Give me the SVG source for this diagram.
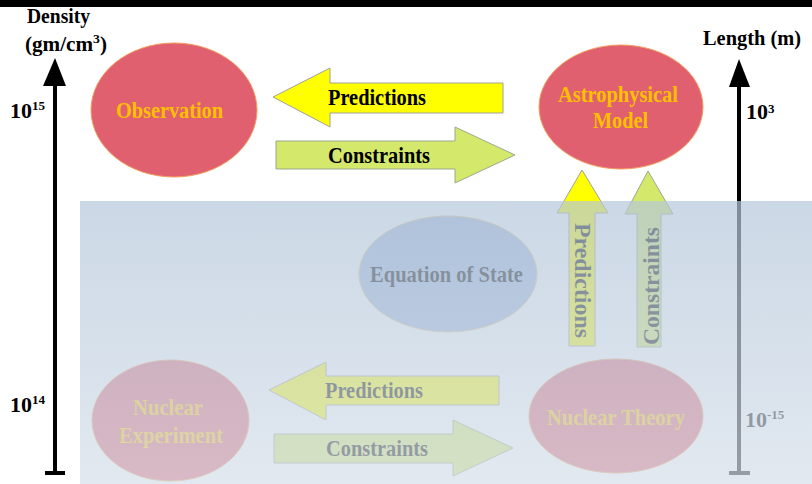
<svg xmlns="http://www.w3.org/2000/svg" width="812" height="484" viewBox="0 0 812 484">
<style>
text{font-family:"Liberation Serif","Times New Roman",serif;font-weight:bold}
.lbl{font-size:23px;fill:#000;text-anchor:middle}
.node{font-size:24px;fill:#ffc000;text-anchor:middle}
.ax{font-size:20px;fill:#000}
.num{font-size:22px;fill:#000}
.sup{font-size:13px}
.red{fill:#e0606f;stroke:#f2a060;stroke-width:1}
.yel{fill:#ffff00;stroke:#a0a0a0;stroke-width:1}
.grn{fill:#d4e86b;stroke:#9aa890;stroke-width:1}
</style>
<defs>
<linearGradient id="ov" x1="0" y1="0" x2="0" y2="1">
<stop offset="0" stop-color="#b5c7da"/>
<stop offset="1" stop-color="#d5dfea"/>
</linearGradient>
</defs>
<rect x="0" y="0" width="812" height="484" fill="#fff"/>
<rect x="0" y="0" width="812" height="7" fill="#000"/>

<g id="density-axis">
<rect x="53" y="84" width="4" height="389" fill="#000"/>
<polygon points="55,58 43,86 66,86" fill="#000"/>
<rect x="45" y="471" width="20" height="4" fill="#000"/>
<text class="ax" x="58.5" y="23" text-anchor="middle" textLength="63" lengthAdjust="spacingAndGlyphs">Density</text>
<text class="ax" x="25" y="51" textLength="82" lengthAdjust="spacingAndGlyphs">(gm/cm<tspan class="sup" dy="-8">3</tspan><tspan dy="8">)</tspan></text>
<text class="num" x="10" y="118">10<tspan class="sup" dy="-8">15</tspan></text>
<text class="num" x="10" y="412">10<tspan class="sup" dy="-8">14</tspan></text>
</g>

<g id="length-axis">
<rect x="737" y="85" width="4" height="388" fill="#000"/>
<polygon points="739,59 729,87 750,87" fill="#000"/>
<rect x="729" y="471" width="21" height="4" fill="#000"/>
<text class="ax" x="752" y="45" text-anchor="middle" textLength="98" lengthAdjust="spacingAndGlyphs">Length (m)</text>
<text class="num" x="746" y="119">10<tspan class="sup" dy="-6">3</tspan></text>
<text class="num" x="745" y="427">10<tspan class="sup" dy="-8">-15</tspan></text>
</g>

<g id="observation">
<ellipse class="red" cx="174" cy="110" rx="83" ry="67"/>
<text class="node" x="169.5" y="118" textLength="107" lengthAdjust="spacingAndGlyphs">Observation</text>
</g>

<g id="astrophysical-model">
<ellipse class="red" cx="621" cy="107" rx="82" ry="62"/>
<text class="node" x="618" y="102" textLength="120" lengthAdjust="spacingAndGlyphs">Astrophysical</text>
<text class="node" x="620.5" y="128" textLength="55" lengthAdjust="spacingAndGlyphs">Model</text>
</g>

<g id="equation-of-state">
<ellipse cx="448" cy="274" rx="89" ry="58" fill="#a0b7dc" stroke="#e8c48a" stroke-width="1"/>
<text class="lbl" x="446.5" y="282" textLength="153" lengthAdjust="spacingAndGlyphs">Equation of State</text>
</g>

<g id="nuclear-experiment">
<ellipse class="red" cx="170.5" cy="420.5" rx="78.5" ry="60.5"/>
<text class="node" x="168" y="415" textLength="70" lengthAdjust="spacingAndGlyphs">Nuclear</text>
<text class="node" x="171" y="443" textLength="104" lengthAdjust="spacingAndGlyphs">Experiment</text>
</g>

<g id="nuclear-theory">
<ellipse class="red" cx="616" cy="416" rx="87" ry="57"/>
<text class="node" x="616" y="425" textLength="138" lengthAdjust="spacingAndGlyphs">Nuclear Theory</text>
</g>

<g id="connectors">
<polygon class="yel" points="273,97 330,68 330,83 503,83 503,113 330,113 330,127"/>
<text class="lbl" x="377" y="105" textLength="98" lengthAdjust="spacingAndGlyphs">Predictions</text>
<polygon class="grn" points="276,141 455,141 455,127 515,155 455,183 455,169 276,169"/>
<text class="lbl" x="379" y="163" textLength="102" lengthAdjust="spacingAndGlyphs">Constraints</text>

<polygon class="yel" points="582,170 608,213 595,213 595,346 569,346 569,213 557,213"/>
<text class="lbl" transform="translate(575,280.5) rotate(90)" textLength="115" lengthAdjust="spacingAndGlyphs">Predictions</text>
<polygon class="grn" points="648,171 673,214 661,214 661,347 637,347 637,214 625,214"/>
<text class="lbl" transform="translate(659,286) rotate(-90)" textLength="118" lengthAdjust="spacingAndGlyphs">Constraints</text>

<polygon class="yel" points="269,390 326,362 326,376 499,376 499,405 326,405 326,420"/>
<text class="lbl" x="374" y="398" textLength="98" lengthAdjust="spacingAndGlyphs">Predictions</text>
<polygon class="grn" points="274,434 453,434 453,420 513,448 453,476 453,463 274,463"/>
<text class="lbl" x="377" y="456" textLength="102" lengthAdjust="spacingAndGlyphs">Constraints</text>
</g>

<g id="nuclear-scale-overlay">
<rect x="80" y="201" width="732" height="283" fill="url(#ov)" fill-opacity="0.7"/>
</g>
</svg>
